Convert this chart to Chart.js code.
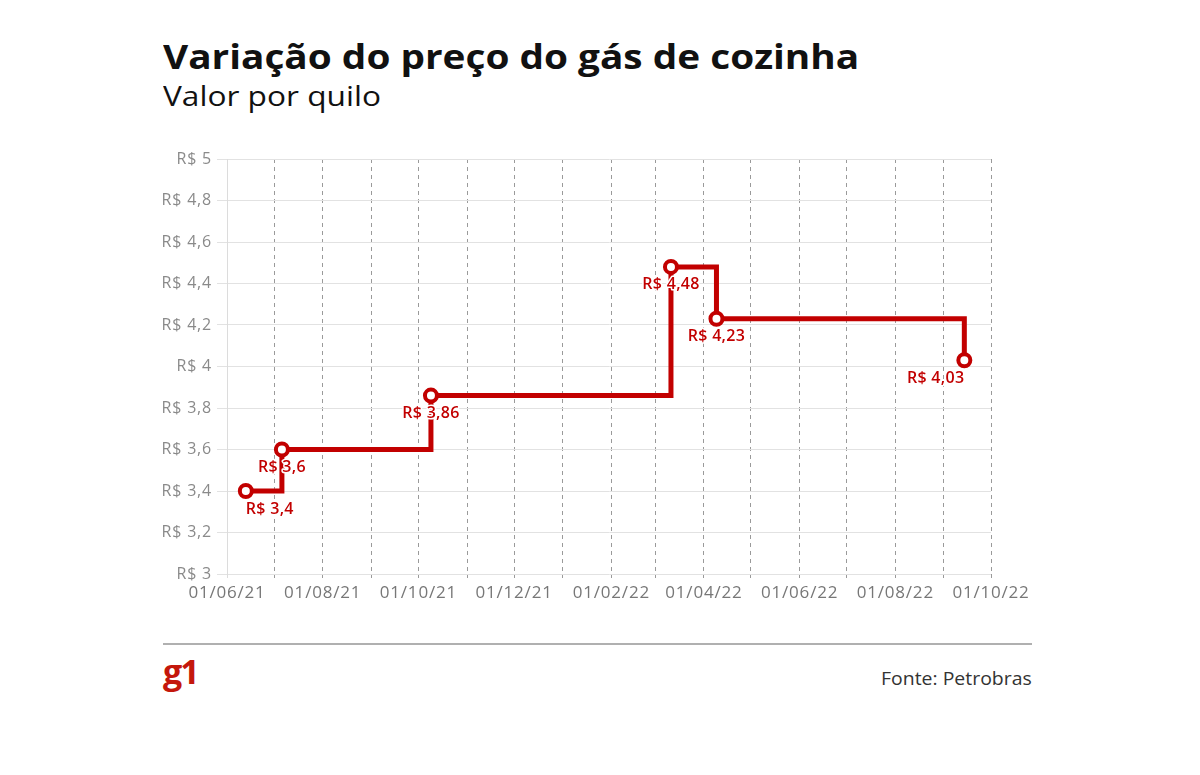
<!DOCTYPE html>
<html>
<head>
<meta charset="utf-8">
<script src="https://cdn.jsdelivr.net/npm/chart.js@4"></script>
<style>
  html, body { margin:0; padding:0; background:#fff; width:1200px; height:775px; overflow:hidden; font-family:"Open Sans", sans-serif; }
  .abs { position:absolute; white-space:nowrap; line-height:1; transform-origin:left top; }
  #title { left:163px; top:39px; font-size:34px; font-weight:700; color:#111; transform:scaleX(1.14); }
  #subtitle { left:163px; top:81px; font-size:28px; font-weight:400; color:#111; transform:scaleX(1.13); }
  #rule { position:absolute; left:163px; top:643px; width:869px; height:2px; background:#b0b0b0; }
  #logo { left:163px; top:654px; font-size:34px; font-weight:700; color:#c4170c; letter-spacing:-2px; }
  #source { left:881px; top:669px; font-size:18px; color:#333; transform:scaleX(1.08); }
  #wrap { position:absolute; left:0; top:140px; width:1200px; height:480px; }
</style>
</head>
<body>
<div id="title" class="abs">Variação do preço do gás de cozinha</div>
<div id="subtitle" class="abs">Valor por quilo</div>
<div id="wrap"><canvas id="c"></canvas></div>
<div id="rule"></div>
<div id="logo" class="abs">g1</div>
<div id="source" class="abs">Fonte: Petrobras</div>
<script>
// ---- data ----
const dates = ['2021-06-13','2021-07-06','2021-10-09','2022-03-11','2022-04-09','2022-09-14'];
const prices = [3.40, 3.60, 3.86, 4.48, 4.23, 4.03];
const priceLabels = ['R$ 3,4','R$ 3,6','R$ 3,86','R$ 4,48','R$ 4,23','R$ 4,03'];
const xTickDates = ['2021-06-01','2021-07-01','2021-08-01','2021-09-01','2021-10-01','2021-11-01','2021-12-01',
  '2022-01-01','2022-02-01','2022-03-01','2022-04-01','2022-05-01','2022-06-01','2022-07-01','2022-08-01','2022-09-01','2022-10-01'];
const xTickLabels = ['01/06/21','','01/08/21','','01/10/21','','01/12/21','','01/02/22','','01/04/22','','01/06/22','','01/08/22','','01/10/22'];
const yTicks = [3, 3.2, 3.4, 3.6, 3.8, 4, 4.2, 4.4, 4.6, 4.8, 5];
const yTickLabels = ['R$ 3','R$ 3,2','R$ 3,4','R$ 3,6','R$ 3,8','R$ 4','R$ 4,2','R$ 4,4','R$ 4,6','R$ 4,8','R$ 5'];

// ---- helpers ----
const origin = Date.UTC(2021, 5, 1);
function toDay(s) { const p = s.split('-').map(Number); return (Date.UTC(p[0], p[1]-1, p[2]) - origin) / 86400000; }
const xTickDays = xTickDates.map(toDay);
const points = dates.map((d, i) => ({ x: toDay(d), y: prices[i] }));
const RED = '#c20000';

const spacingPlugin = {
  id: 'spacing',
  beforeInit(chart) { chart.ctx.letterSpacing = '0.8px'; },
  beforeDraw(chart) { chart.ctx.letterSpacing = '0.8px'; }
};

const labelPlugin = {
  id: 'valueLabels',
  afterDatasetsDraw(chart) {
    const ctx = chart.ctx;
    const meta = chart.getDatasetMeta(0);
    ctx.save();
    ctx.font = '600 16px "Open Sans"';
    ctx.letterSpacing = '0.3px';
    ctx.textBaseline = 'middle';
    meta.data.forEach((el, i) => {
      const last = meta.data.length - 1;
      ctx.textAlign = i === 0 ? 'left' : (i === last ? 'right' : 'center');
      const x = el.x;
      const y = el.y + 18;
      ctx.lineWidth = 3;
      ctx.strokeStyle = '#fff';
      ctx.lineJoin = 'round';
      ctx.strokeText(priceLabels[i], x, y);
      ctx.fillStyle = RED;
      ctx.fillText(priceLabels[i], x, y);
    });
    ctx.restore();
  }
};

new Chart(document.getElementById('c'), {
  type: 'line',
  data: {
    datasets: [{
      data: points,
      stepped: 'before',
      borderColor: RED,
      borderWidth: 5,
      pointRadius: 6,
      pointBorderWidth: 4,
      pointBackgroundColor: '#fff',
      pointBorderColor: RED,
      fill: false
    }]
  },
  options: {
    responsive: true,
    maintainAspectRatio: false,
    animation: false,
    layout: { padding: { left: 150, right: 209, top: 19, bottom: 0 } },
    plugins: { legend: { display: false }, tooltip: { enabled: false } },
    scales: {
      x: {
        type: 'linear',
        min: 0,
        max: xTickDays[xTickDays.length - 1],
        afterBuildTicks: s => { s.ticks = xTickDays.map(v => ({ value: v })); },
        afterFit: s => { s.height = 46; },
        grid: {
          color: ctx => ctx.index === 0 ? '#dcdcdc' : '#9a9a9a',
          lineWidth: 1,
          tickLength: 4,
          drawTicks: true
        },
        border: { display: false, dash: [4, 4] },
        ticks: {
          autoSkip: false, maxRotation: 0, padding: 5,
          color: '#777', font: { family: 'Open Sans', size: 17 },
          callback: (v, i) => xTickLabels[i]
        }
      },
      y: {
        min: 3, max: 5,
        afterBuildTicks: s => { s.ticks = yTicks.map(v => ({ value: v })); },
        afterFit: s => { s.width = 77; },
        grid: { color: '#e2e2e2', lineWidth: 1, tickLength: 10 },
        border: { display: true, color: '#dcdcdc' },
        ticks: {
          padding: 5, color: '#8a8a8a', font: { family: 'Open Sans', size: 16 },
          callback: (v, i) => yTickLabels[i]
        }
      }
    }
  },
  plugins: [spacingPlugin, labelPlugin]
});
</script>
</body>
</html>
